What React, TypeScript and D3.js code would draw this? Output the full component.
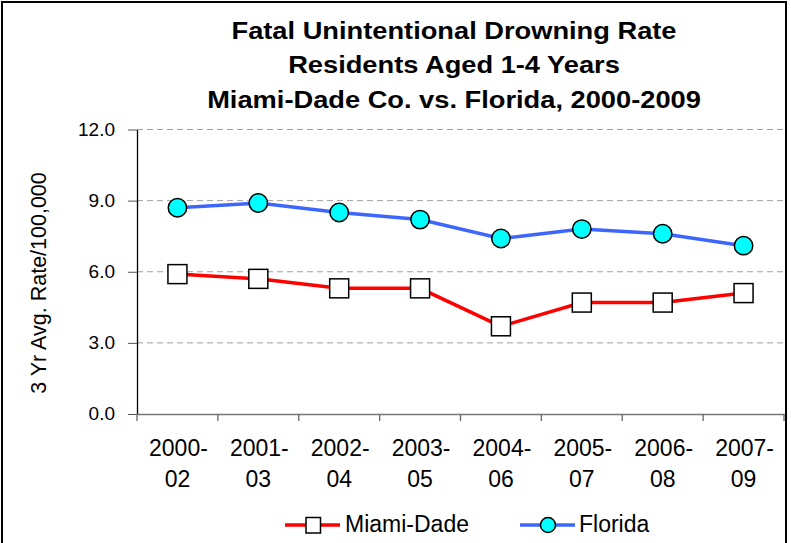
import React, { useEffect, useRef } from "react";
import * as d3 from "d3";

const periods = ["2000-02", "2001-03", "2002-04", "2003-05", "2004-06", "2005-07", "2006-08", "2007-09"];
const miamiDade = [5.9, 5.7, 5.3, 5.3, 3.7, 4.7, 4.7, 5.1];
const florida = [8.7, 8.9, 8.5, 8.2, 7.4, 7.8, 7.6, 7.1];
const yTicks = [0, 3, 6, 9, 12];
const titleLines = [
  "Fatal Unintentional Drowning Rate",
  "Residents Aged 1-4 Years",
  "Miami-Dade Co. vs. Florida, 2000-2009",
];

const width = 791;
const height = 543;
const font = "'Liberation Sans', Arial, sans-serif";

const App = () => {
  const ref = useRef(null);

  useEffect(() => {
    const svg = d3.select(ref.current);
    svg.selectAll("*").remove();

    const x = d3.scaleBand().domain(periods).range([137, 784]).padding(0);
    const y = d3.scaleLinear().domain([0, 12]).range([414, 129.5]);
    const cx = d => x(d) + x.bandwidth() / 2;

    // frame
    svg.append("rect")
      .attr("x", 2).attr("y", 2)
      .attr("width", 784).attr("height", 560)
      .attr("fill", "white")
      .attr("stroke", "black")
      .attr("stroke-width", 2);

    // title (the original is a little stretched sideways)
    const title = svg.append("g")
      .attr("transform", "translate(454,0) scale(1.16,1)")
      .append("text")
      .attr("text-anchor", "middle")
      .style("font-family", font)
      .style("font-weight", "bold")
      .style("font-size", "23.5px");
    titleLines.forEach((t, i) => {
      title.append("tspan").attr("x", 0).attr("y", 39 + i * 34.5).text(t);
    });

    // gridlines
    svg.append("g")
      .selectAll("line")
      .data(yTicks.filter(d => d > 0))
      .enter()
      .append("line")
      .attr("x1", 137).attr("x2", 784)
      .attr("y1", d => y(d)).attr("y2", d => y(d))
      .attr("stroke", "#a0a0a0")
      .attr("stroke-width", 1)
      .attr("stroke-dasharray", "6,4");

    // y axis
    const yAxis = svg.append("g")
      .attr("transform", "translate(137,0)")
      .call(d3.axisLeft(y).tickValues(yTicks).tickFormat(d3.format(".1f")).tickSize(9).tickSizeOuter(0));
    yAxis.select(".domain").attr("stroke", "black").attr("stroke-width", 1.3);
    yAxis.selectAll(".tick line").attr("stroke", "#555");
    yAxis.selectAll("text")
      .attr("x", -22)
      .attr("dy", "0.3em")
      .style("font-family", font)
      .style("font-size", "19px")
      .attr("fill", "black");

    // x axis
    const xAxis = svg.append("g")
      .attr("transform", `translate(0,${y(0)})`)
      .call(d3.axisBottom(x).tickSize(0).tickFormat(() => ""));
    xAxis.select(".domain").attr("stroke", "#777").attr("stroke-width", 1.5);
    xAxis.selectAll(".tick").remove();
    xAxis.selectAll("line.sep")
      .data(d3.range(periods.length + 1))
      .enter()
      .append("line")
      .attr("class", "sep")
      .attr("x1", i => 137 + i * x.step()).attr("x2", i => 137 + i * x.step())
      .attr("y1", 0).attr("y2", 7)
      .attr("stroke", "#666").attr("stroke-width", 1.3);

    const xl = svg.append("g")
      .selectAll("text")
      .data(periods)
      .enter()
      .append("text")
      .attr("text-anchor", "middle")
      .style("font-family", font)
      .style("font-size", "23px");
    xl.append("tspan").attr("x", d => cx(d) + 1).attr("y", 456).text(d => d.split("-")[0] + "-");
    xl.append("tspan").attr("x", d => cx(d)).attr("y", 487).text(d => d.split("-")[1]);

    // y axis title
    svg.append("text")
      .attr("transform", "translate(46,283) rotate(-90)")
      .attr("text-anchor", "middle")
      .style("font-family", font)
      .style("font-size", "21.5px")
      .text("3 Yr Avg. Rate/100,000");

    const line = d3.line().x(d => cx(d[0])).y(d => y(d[1]));

    // Florida
    svg.append("path")
      .datum(periods.map((p, i) => [p, florida[i]]))
      .attr("d", line)
      .attr("fill", "none")
      .attr("stroke", "#3d66ff")
      .attr("stroke-width", 3.5);
    svg.append("g")
      .selectAll("circle")
      .data(periods)
      .enter()
      .append("circle")
      .attr("cx", d => cx(d))
      .attr("cy", (d, i) => y(florida[i]))
      .attr("r", 9.2)
      .attr("fill", "#00ffff")
      .attr("stroke", "black")
      .attr("stroke-width", 1.5);

    // Miami-Dade
    svg.append("path")
      .datum(periods.map((p, i) => [p, miamiDade[i]]))
      .attr("d", line)
      .attr("fill", "none")
      .attr("stroke", "#ff0000")
      .attr("stroke-width", 3.5);
    svg.append("g")
      .selectAll("rect")
      .data(periods)
      .enter()
      .append("rect")
      .attr("x", d => cx(d) - 9.5)
      .attr("y", (d, i) => y(miamiDade[i]) - 9.5)
      .attr("width", 19).attr("height", 19)
      .attr("fill", "white")
      .attr("stroke", "black")
      .attr("stroke-width", 1.5);

    // legend
    const leg = svg.append("g").attr("transform", "translate(0,525)");
    leg.append("line").attr("x1", 285).attr("x2", 340).attr("y1", 0).attr("y2", 0)
      .attr("stroke", "#ff0000").attr("stroke-width", 3.5);
    leg.append("rect").attr("x", 306).attr("y", -7.5).attr("width", 14.5).attr("height", 15.5)
      .attr("fill", "white").attr("stroke", "black").attr("stroke-width", 1.5);
    leg.append("text").attr("x", 345).attr("y", 7)
      .style("font-family", font).style("font-size", "23px").text("Miami-Dade");
    leg.append("line").attr("x1", 520).attr("x2", 575).attr("y1", 0).attr("y2", 0)
      .attr("stroke", "#3d66ff").attr("stroke-width", 3.5);
    leg.append("circle").attr("cx", 548).attr("cy", 0).attr("r", 7.5)
      .attr("fill", "#00ffff").attr("stroke", "black").attr("stroke-width", 1.5);
    leg.append("text").attr("x", 579).attr("y", 7)
      .style("font-family", font).style("font-size", "23px").text("Florida");
  }, []);

  return (
    <svg
      ref={ref}
      width={width}
      height={height}
      style={{ position: "absolute", left: 0, top: 0, background: "white" }}
    />
  );
};

export default App;
